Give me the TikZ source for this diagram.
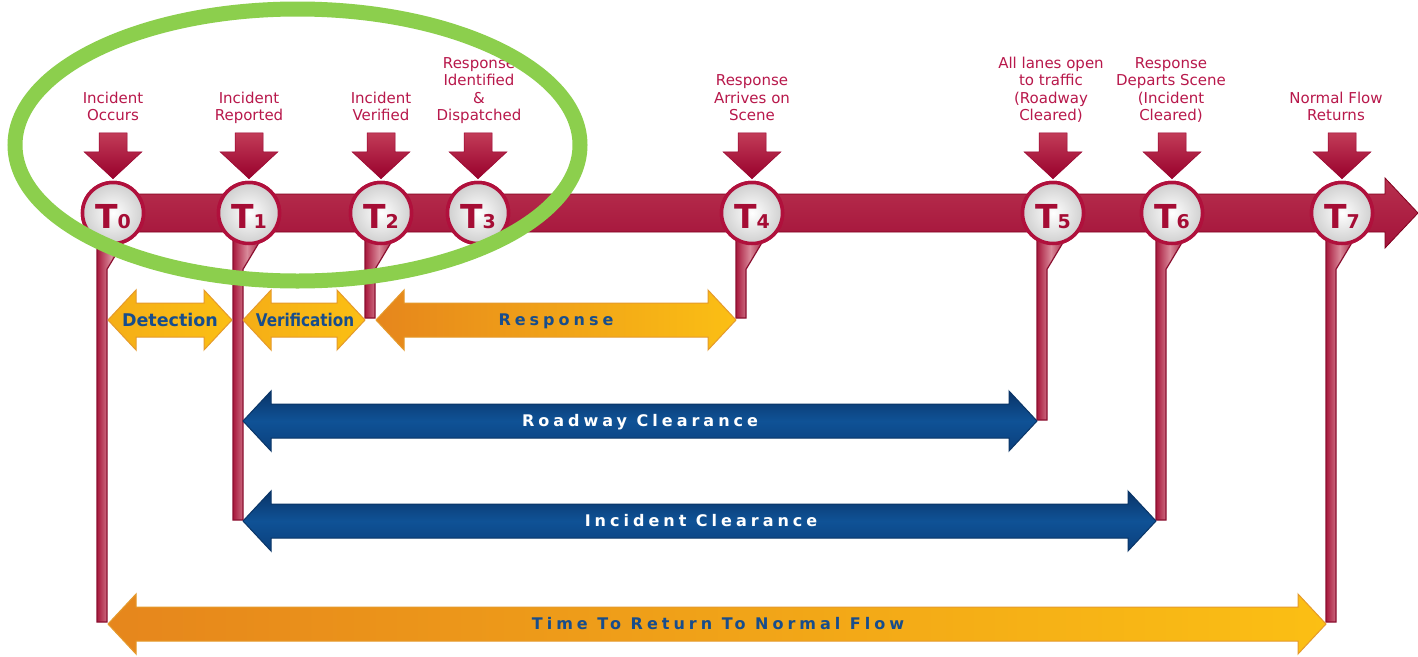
\documentclass[tikz,border=0pt]{standalone}
\usepackage{fontspec}
\setmainfont{DejaVu Sans}
\newfontfamily\sbf[LetterSpace=25]{DejaVu Sans Bold}
\usetikzlibrary{calc}
\definecolor{lblred}{HTML}{B8184B}
\definecolor{crim}{HTML}{B0103C}
\definecolor{tred}{HTML}{A50D35}
\definecolor{circgray}{HTML}{CFCFCF}
\definecolor{barTop}{HTML}{B8304E}
\definecolor{barMid}{HTML}{85001F}
\definecolor{barBot}{HTML}{A3123A}
\definecolor{barEdge}{HTML}{80001E}
\definecolor{dnTop}{HTML}{C23C58}
\definecolor{dnBot}{HTML}{98002C}
\definecolor{stemL}{HTML}{A8183C}
\definecolor{stemM}{HTML}{D98A9A}
\definecolor{stemR}{HTML}{A51E40}
\definecolor{stemD}{HTML}{8B1030}
\definecolor{orL}{HTML}{E6861C}
\definecolor{orR}{HTML}{FBBF14}
\definecolor{orLine}{HTML}{E59A2C}
\definecolor{blTop}{HTML}{0A3468}
\definecolor{blMid}{HTML}{0F5296}
\definecolor{blBot}{HTML}{0B3F7C}
\definecolor{blLine}{HTML}{0A3567}
\definecolor{txtblue}{HTML}{174D8C}
\definecolor{ring}{HTML}{8CCF4D}
\newcommand\dblarr[4]{%
  \path[#4] (#1,#3) -- ({#1+28},{#3-30}) -- ({#1+28},{#3-17}) -- ({#2-28},{#3-17})
    -- ({#2-28},{#3-30}) -- (#2,#3) -- ({#2-28},{#3+30}) -- ({#2-28},{#3+17})
    -- ({#1+28},{#3+17}) -- ({#1+28},{#3+30}) -- cycle;}
\newcommand\dnarr[1]{%
  \path[dnarrow] ([yshift=2pt]#1.north) -- ++(-29,-27) -- ++(15,0) -- ++(0,-19)
    -- ++(28,0) -- ++(0,19) -- ++(15,0) -- cycle;}
\newcommand\stemto[2]{%
  \path[stemst] (#1.south) ++(-16,-6) -- ++(28,0) -- ++(-18,30)
    -- ($(#1.south |- 0,#2)+(-6,0)$) -- ($(#1.south |- 0,#2)+(-16,0)$) -- cycle;}
\newcommand\tlab[1]{\raisebox{-3pt}[\height][0pt]{\fontsize{33}{33}\selectfont\bfseries T\fontsize{19}{19}\selectfont#1}}
\begin{document}
\begin{tikzpicture}[x=1pt,y=-1pt,
  lbl/.style={font=\fontsize{15}{17.5}\selectfont, text=lblred, align=center, inner sep=0pt, anchor=south},
  tcirc/.style={circle, minimum size=61pt, inner sep=0pt, draw=crim, line width=3.5pt,
    inner color=white, outer color=circgray, text=tred},
  dnarrow/.style={top color=dnTop, bottom color=dnBot, draw=dnBot, line width=0.5pt},
  stemst/.style={left color=stemL, right color=stemR, middle color=stemM, draw=stemD, line width=1.2pt},
  orarr/.style={left color=orL, right color=orR, draw=orLine, line width=1pt},
  orarrS/.style={left color=orR!70!orL, right color=orR, draw=orLine, line width=1pt},
  blarr/.style={top color=blTop, bottom color=blBot, middle color=blMid, draw=blLine, line width=1pt},
  otxt/.style={font=\fontsize{17.5}{20}\selectfont\bfseries, text=txtblue, inner sep=0pt, text height=12.7pt, text depth=0pt},
  stxt/.style={font={\sbf\fontsize{16}{19}\selectfont}, inner sep=0pt, text height=11.7pt, text depth=0pt},
  ringst/.style={draw=ring, line width=15pt}
]
\useasboundingbox (0,0) rectangle (1418,656);
\fill[white] (0,0) rectangle (1418,656);

% main time bar
\path[top color=barTop, middle color=barMid, bottom color=barBot, draw=barEdge, line width=0.8pt]
  (92,194) -- (1385,194) -- (1385,178) -- (1418,213) -- (1385,248) -- (1385,232) -- (92,232) -- cycle;

% time point circles (placed first so stems and arrows can refer to them)
\path
  (113,213) node[tcirc] (T0) {}
  (249,213) node[tcirc] (T1) {}
  (381,213) node[tcirc] (T2) {}
  (478,213) node[tcirc] (T3) {}
  (752,213) node[tcirc] (T4) {}
  (1053,213) node[tcirc] (T5) {}
  (1172,213) node[tcirc] (T6) {}
  (1342,213) node[tcirc] (T7) {};

% stems
\stemto{T0}{622}
\stemto{T1}{520}
\stemto{T2}{318}
\stemto{T4}{318}
\stemto{T5}{420}
\stemto{T6}{520}
\stemto{T7}{622}

% redraw circles on top of stems
\foreach \n/\d in {T0/0,T1/1,T2/2,T3/3,T4/4,T5/5,T6/6,T7/7}{
  \node[tcirc] (\n c) at (\n) {\tlab{\d}};
}

% down arrows
\foreach \n in {T0,T1,T2,T3,T4,T5,T6,T7}{ \dnarr{\n} }

% labels
\node[lbl] (L0) at (113,126) {Incident\\Occurs\strut};
\node[lbl] (L1) at (249,126) {Incident\\Reported\strut};
\node[lbl] (L2) at (381,126) {Incident\\Verified\strut};
\node[lbl] (L3) at (479,126) {Response\\Identified\\\&\\Dispatched\strut};
\node[lbl] (L4) at (752,126) {Response\\Arrives on\\Scene\strut};
\node[lbl] (L5) at (1051,126) {All lanes open\\to traffic\\(Roadway\\Cleared)\strut};
\node[lbl] (L6) at (1171,126) {Response\\Departs Scene\\(Incident\\Cleared)\strut};
\node[lbl] (L7) at (1336,126) {Normal Flow\\Returns\strut};

% interval arrows
\dblarr{108}{232}{320}{orarrS}
\dblarr{243}{365}{320}{orarrS}
\dblarr{376}{736}{320}{orarr}
\dblarr{243}{1037}{421}{blarr}
\dblarr{243}{1156}{521}{blarr}
\dblarr{108}{1326}{624}{orarr}

\node[otxt] (det) at (170,320) {Detection};
\node[otxt] (ver) at (305,320) {\scalebox{0.87}[1]{Verification}};
\node[stxt, text=txtblue] (resp) at (556,320) {Response};
\node[stxt, text=white] (road) at (640,421) {Roadway Clearance};
\node[stxt, text=white] (inc) at (701,521) {Incident Clearance};
\node[stxt, text=txtblue] (norm) at (718,624) {Time To Return To Normal Flow};

% highlight ring
\draw[ringst] (297.5,145) ellipse [x radius=282.5pt, y radius=136pt];
\end{tikzpicture}
\end{document}
